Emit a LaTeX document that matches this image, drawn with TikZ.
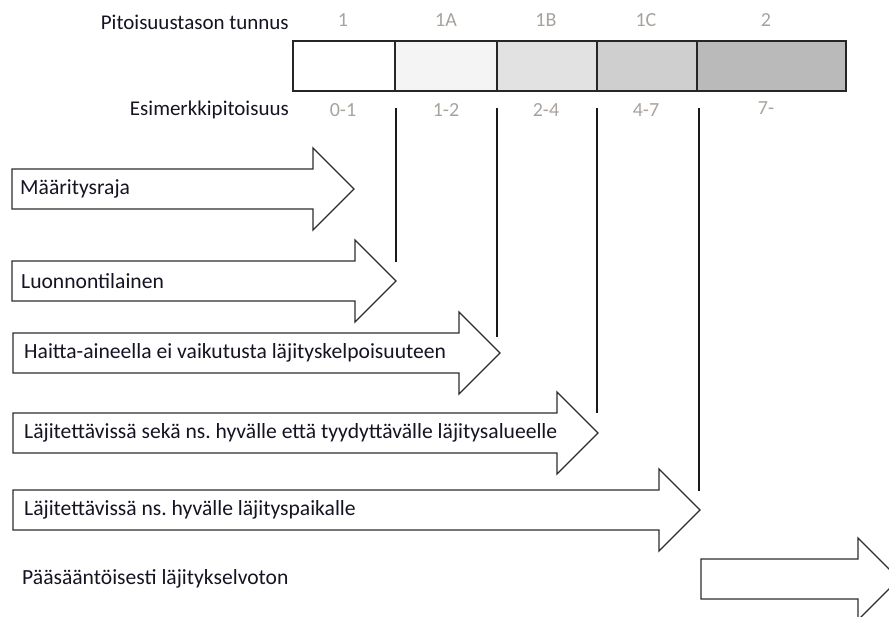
\documentclass[tikz,border=0pt]{standalone}
\usepackage{fontspec}
\setmainfont{Carlito}
\frenchspacing
\definecolor{txt}{RGB}{20,20,35}
\definecolor{lbl}{RGB}{168,162,156}
\definecolor{edge}{RGB}{45,45,45}
\definecolor{c1}{RGB}{255,255,255}
\definecolor{c2}{RGB}{244,244,244}
\definecolor{c3}{RGB}{226,226,226}
\definecolor{c4}{RGB}{207,207,207}
\definecolor{c5}{RGB}{186,186,186}
\newcommand\bigarr[4]{% name, left x, tip x, centre y
  \draw[arrline] ({#2},{#4-20}) -- ({#3-41},{#4-20}) -- ({#3-41},{#4-41})
    -- ({#3},{#4}) coordinate (#1tip) -- ({#3-41},{#4+41}) -- ({#3-41},{#4+20})
    -- ({#2},{#4+20}) -- cycle;}
\begin{document}
\begin{tikzpicture}[x=1pt,y=-1pt,
  arrline/.style={draw=edge,line width=1.3pt,fill=white,line join=miter},
  cell/.style={draw=black!85,line width=1.3pt,minimum height=50pt,inner sep=0pt,outer sep=0pt},
  lvl/.style={text=lbl,font=\fontsize{20}{24}\selectfont,inner sep=0pt},
  arrtext/.style={text=txt,font=\fontsize{21.6}{26}\selectfont\frenchspacing,anchor=west,inner sep=0pt},
  rowtitle/.style={text=txt,font=\fontsize{21}{25}\selectfont,anchor=east,inner sep=0pt},
  limit/.style={draw=black!90,line width=1.3pt}]
\useasboundingbox (0,0) rectangle (889,616);
\clip (0,0) rectangle (889,616);
% scale bar
\node[cell,fill=c1,minimum width=102pt] (k1) at (344,66) {};
\node[cell,fill=c2,minimum width=102pt] (k2) at (446,66) {};
\node[cell,fill=c3,minimum width=100pt] (k3) at (547,66) {};
\node[cell,fill=c4,minimum width=100pt] (k4) at (647,66) {};
\node[cell,fill=c5,minimum width=149pt] (k5) at (771.5,66) {};
\node[rowtitle] (t1) at (289,22) {Pitoisuustason tunnus};
\node[rowtitle] (t2) at (289,110) {Esimerkkipitoisuus};
\node[lvl] (l1) at (343,20) {1};
\node[lvl] (l2) at (446,20) {1A};
\node[lvl] (l3) at (546,20) {1B};
\node[lvl] (l4) at (646,20) {1C};
\node[lvl] (l5) at (766,20) {2};
\node[lvl] (e1) at (343,110) {0-1};
\node[lvl] (e2) at (446,110) {1-2};
\node[lvl] (e3) at (546,110) {2-4};
\node[lvl] (e4) at (646,110) {4-7};
\node[lvl] (e5) at (766,108) {7-};
% arrows
\bigarr{a1}{12}{354}{189}
\bigarr{a2}{12}{396}{281}
\bigarr{a3}{13}{500}{353}
\bigarr{a4}{13}{598}{433}
\bigarr{a5}{13}{700}{510}
\bigarr{a6}{701}{899}{579}
\node[arrtext] (x1) at (20,189) {Määritysraja};
\node[arrtext] (x2) at (21,281) {Luonnontilainen};
\node[arrtext] (x3) at (24,353) {Haitta-aineella ei vaikutusta läjityskelpoisuuteen};
\node[arrtext] (x4) at (24,433) {Läjitettävissä sekä ns. hyvälle että tyydyttävälle läjitysalueelle};
\node[arrtext] (x5) at (24,510) {Läjitettävissä ns. hyvälle läjityspaikalle};
\node[arrtext] (x6) at (22,579) {Pääsääntöisesti läjitykselvoton};
% limit lines
\coordinate (v1) at (396,108);
\coordinate (v2) at (497,108);
\coordinate (v3) at (597,108);
\coordinate (v4) at (699,108);
\coordinate (w1) at (396,262);
\coordinate (w2) at (497,337);
\coordinate (w3) at (597,413);
\coordinate (w4) at (699,491);
\draw[limit] (v1) -- (w1);
\draw[limit] (v2) -- (w2);
\draw[limit] (v3) -- (w3);
\draw[limit] (v4) -- (w4);
\end{tikzpicture}
\end{document}
